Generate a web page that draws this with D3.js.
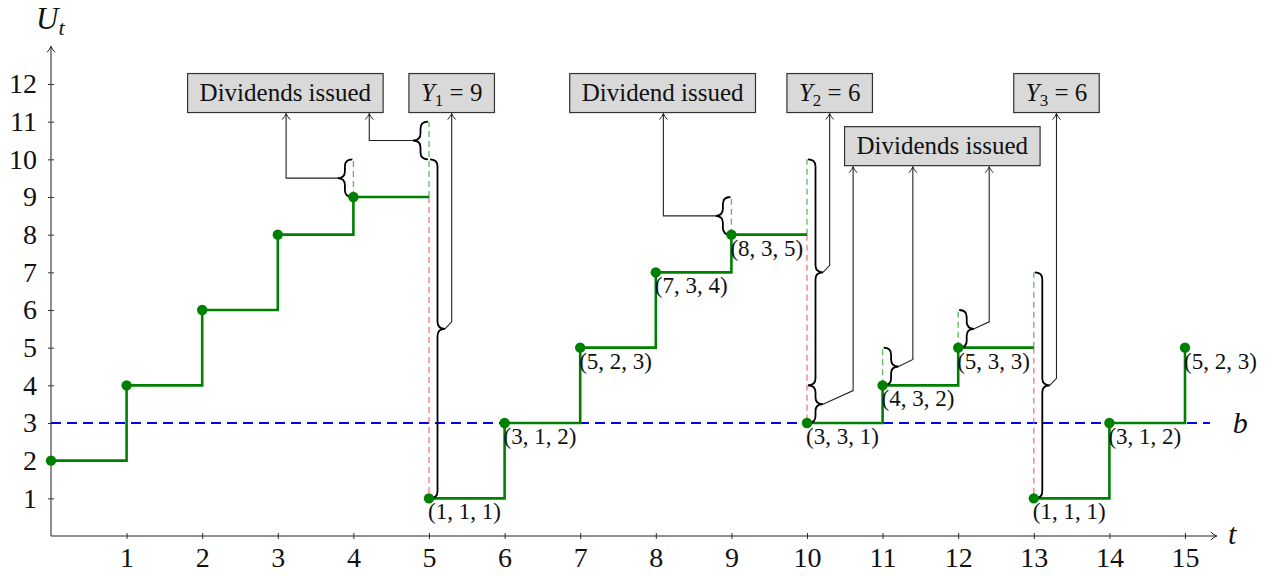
<!DOCTYPE html>
<html>
<head>
<meta charset="utf-8">
<script src="https://cdn.jsdelivr.net/npm/d3@7"></script>
<style>
  body { margin: 0; background: #fff; }
  svg text { font-family: "Liberation Serif", "DejaVu Serif", serif; }
</style>
</head>
<body>
<div id="chart"></div>
<script>
// surplus process U_t, one value per period
var times  = [0, 1, 2, 3, 4, 5, 6, 7, 8, 9, 10, 11, 12, 13, 14, 15];
var values = [2, 4, 6, 8, 9, 1, 3, 5, 7, 8, 3, 4, 5, 1, 3, 5];
var pointLabels = [null, null, null, null, null, "(1, 1, 1)", "(3, 1, 2)", "(5, 2, 3)", "(7, 3, 4)",
                   "(8, 3, 5)", "(3, 3, 1)", "(4, 3, 2)", "(5, 3, 3)", "(1, 1, 1)", "(3, 1, 2)", "(5, 2, 3)"];

var xTicks = [1, 2, 3, 4, 5, 6, 7, 8, 9, 10, 11, 12, 13, 14, 15];
var yTicks = [1, 2, 3, 4, 5, 6, 7, 8, 9, 10, 11, 12];
var barrier = 3;

// dashed green marks above the path where dividends are paid [t, from, to]
var divT    = [4, 5, 9, 10, 11, 12, 13];
var divFrom = [9, 9, 8, 8, 4, 5, 5];
var divTo   = [10, 11, 9, 10, 5, 6, 7];

// label boxes
var boxTexts = ["Dividends issued", "Y1 = 9", "Dividend issued", "Y2 = 6", "Dividends issued", "Y3 = 6"];
var boxT = [3.10, 5.30, 8.09, 10.30, 11.79, 13.30];
var boxU = [11.76, 11.76, 11.76, 11.76, 10.35, 11.76];

// curly braces and the box each one points to
var braceT    = [4, 5, 5, 9, 10, 10, 11, 12, 13];
var braceFrom = [9, 10, 1, 8, 4, 3, 4, 5, 1];
var braceTo   = [10, 11, 10, 9, 10, 4, 5, 6, 7];
var braceSide = [-1, -1, 1, -1, 1, 1, 1, 1, 1];
var braceBox  = [0, 0, 1, 2, 3, 4, 4, 4, 5];
var braceLinkT = [3.11, 4.21, 5.30, 8.10, 10.30, 10.61, 11.40, 12.41, 13.30];

var w = 1277, h = 576;

var x = d3.scaleLinear().domain([0, 15]).range([51, 1185]);
var y = d3.scaleLinear().domain([0, 12]).range([536, 84]);

var svg = d3.select("#chart").append("svg")
    .attr("width", w).attr("height", h);

// open arrow tip, pointing along the line direction
var defs = svg.append("defs");
defs.append("marker")
    .attr("id", "arr")
    .attr("markerUnits", "userSpaceOnUse")
    .attr("viewBox", "-8 -6 10 12")
    .attr("refX", 0).attr("refY", 0)
    .attr("markerWidth", 10).attr("markerHeight", 12)
    .attr("orient", "auto")
    .append("path")
    .attr("d", "M-6,-4 Q-3,-1 0,0 Q-3,1 -6,4")
    .attr("fill", "none").attr("stroke", "#222").attr("stroke-width", 1);

// axes
var xAxis = d3.axisBottom(x).tickValues(xTicks).tickSizeInner(3).tickSizeOuter(0).tickPadding(8);
var gx = svg.append("g").attr("transform", "translate(0," + y(0) + ")").call(xAxis);
gx.select(".domain").remove();
gx.selectAll(".tick line").attr("y1", -3).attr("y2", 3).attr("stroke", "#333");
gx.selectAll(".tick text").attr("font-size", 28).attr("font-family", "Liberation Serif").attr("fill", "#111");

var yAxis = d3.axisLeft(y).tickValues(yTicks).tickSizeInner(3).tickSizeOuter(0).tickPadding(11);
var gy = svg.append("g").attr("transform", "translate(" + x(0) + ",0)").call(yAxis);
gy.select(".domain").remove();
gy.selectAll(".tick line").attr("x1", -3).attr("x2", 3).attr("stroke", "#333");
gy.selectAll(".tick text").attr("font-size", 28).attr("font-family", "Liberation Serif").attr("fill", "#111");

svg.append("line")
    .attr("x1", x(0)).attr("y1", y(0)).attr("x2", x(15.42)).attr("y2", y(0))
    .attr("stroke", "#222").attr("stroke-width", 1.2).attr("marker-end", "url(#arr)");
svg.append("line")
    .attr("x1", x(0)).attr("y1", y(0)).attr("x2", x(0)).attr("y2", y(13))
    .attr("stroke", "#444").attr("stroke-width", 1.2).attr("marker-end", "url(#arr)");

// axis names
var ut = svg.append("text").attr("x", 36).attr("y", 29).attr("font-size", 31).attr("fill", "#111");
ut.append("tspan").attr("font-style", "italic").text("U");
ut.append("tspan").attr("font-style", "italic").attr("font-size", 22).attr("dy", 6).text("t");
svg.append("text").attr("x", x(15.57)).attr("y", y(0) + 8).attr("font-size", 30)
    .attr("font-style", "italic").attr("fill", "#111").text("t");
svg.append("text").attr("x", x(15.63)).attr("y", y(barrier) + 10).attr("font-size", 30)
    .attr("font-style", "italic").attr("fill", "#111").text("b");

// barrier b
svg.append("line")
    .attr("x1", x(0)).attr("y1", y(barrier)).attr("x2", x(15.33)).attr("y2", y(barrier))
    .attr("stroke", "#0000ff").attr("stroke-width", 2).attr("stroke-dasharray", "10,6");

// red dashed drops, path pieces
var data = times.map(function(t, i) { return { t: t, u: values[i], label: pointLabels[i] }; });
var pieces = [], cur = [data[0]];
for (var i = 1; i < data.length; i++) {
    if (data[i].u < data[i - 1].u) {
        cur.push({ t: data[i].t, u: data[i - 1].u });
        pieces.push(cur);
        svg.append("line")
            .attr("x1", x(data[i].t)).attr("x2", x(data[i].t))
            .attr("y1", y(data[i - 1].u)).attr("y2", y(data[i].u))
            .attr("stroke", "#ff5a5a").attr("stroke-opacity", 0.85)
            .attr("stroke-width", 1.3).attr("stroke-dasharray", "6,4");
        cur = [data[i]];
    } else {
        cur.push(data[i]);
    }
}
pieces.push(cur);

// dividend green dashed marks
divT.forEach(function(t, i) {
    svg.append("line")
        .attr("x1", x(t)).attr("x2", x(t))
        .attr("y1", y(divFrom[i])).attr("y2", y(divTo[i]))
        .attr("stroke", "#4fae4f").attr("stroke-opacity", 0.9)
        .attr("stroke-width", 1.3).attr("stroke-dasharray", "6,4");
});

var line = d3.line().x(function(d) { return x(d.t); }).y(function(d) { return y(d.u); })
    .curve(d3.curveStepAfter);
pieces.forEach(function(p) {
    svg.append("path").datum(p).attr("d", line)
        .attr("fill", "none").attr("stroke", "#008000").attr("stroke-width", 2.6);
});

// boxes
var boxes = boxTexts.map(function(txt, i) {
    var g = svg.append("g");
    var rect = g.append("rect");
    var text = g.append("text").attr("x", x(boxT[i])).attr("y", y(boxU[i]) + 8)
        .attr("text-anchor", "middle").attr("font-size", 25).attr("fill", "#111");
    var m = txt.match(/^Y(\d) = (\d+)$/);
    if (m) {
        text.append("tspan").attr("font-style", "italic").text("Y");
        text.append("tspan").attr("font-size", 17).attr("dy", 5).text(m[1]);
        text.append("tspan").attr("dy", -5).text(" = " + m[2]);
    } else {
        text.text(txt);
    }
    var tw = text.node().getComputedTextLength();
    var bw = tw + 24, bh = 39;
    rect.attr("x", x(boxT[i]) - bw / 2).attr("y", y(boxU[i]) - bh / 2)
        .attr("width", bw).attr("height", bh)
        .attr("fill", "#d9d9d9").attr("stroke", "#333").attr("stroke-width", 1.2);
    return { bottom: y(boxU[i]) + bh / 2 };
});

// braces + connectors
function bracePath(x0, yA, yB, side) {
    var a = 15 * side, hlf = a / 2, top = Math.min(yA, yB), bot = Math.max(yA, yB), m = (top + bot) / 2;
    var r = 7;
    return "M" + x0 + "," + top +
        " Q" + (x0 + hlf) + "," + top + " " + (x0 + hlf) + "," + (top + r) +
        " L" + (x0 + hlf) + "," + (m - r) +
        " Q" + (x0 + hlf) + "," + m + " " + (x0 + a) + "," + m +
        " Q" + (x0 + hlf) + "," + m + " " + (x0 + hlf) + "," + (m + r) +
        " L" + (x0 + hlf) + "," + (bot - r) +
        " Q" + (x0 + hlf) + "," + bot + " " + x0 + "," + bot;
}

braceT.forEach(function(t, i) {
    var side = braceSide[i];
    var x0 = x(t) + side * 1;
    svg.append("path")
        .attr("d", bracePath(x0, y(braceFrom[i]), y(braceTo[i]), side))
        .attr("fill", "none").attr("stroke", "#000").attr("stroke-width", 1.8);
    var tipX = x0 + 15 * side, tipY = (y(braceFrom[i]) + y(braceTo[i])) / 2;
    var lx = x(braceLinkT[i]);
    var bendY = side < 0 ? tipY : tipY - Math.max(7, (lx - tipX) * 0.45);
    svg.append("path")
        .attr("d", "M" + tipX + "," + tipY + " L" + lx + "," + bendY + " L" + lx + "," + (boxes[braceBox[i]].bottom + 1))
        .attr("fill", "none").attr("stroke", "#222").attr("stroke-width", 1.1)
        .attr("marker-end", "url(#arr)");
});

// points and labels
svg.selectAll("circle.pt").data(data).enter().append("circle")
    .attr("class", "pt")
    .attr("cx", function(d) { return x(d.t); })
    .attr("cy", function(d) { return y(d.u); })
    .attr("r", 5.2).attr("fill", "#008000");

svg.selectAll("text.lbl").data(data.filter(function(d) { return d.label; })).enter().append("text")
    .attr("class", "lbl")
    .attr("x", function(d) { return x(d.t) - 1; })
    .attr("y", function(d) { return y(d.u) + 21; })
    .attr("font-size", 23).attr("fill", "#111")
    .text(function(d) { return d.label; });
</script>
</body>
</html>
